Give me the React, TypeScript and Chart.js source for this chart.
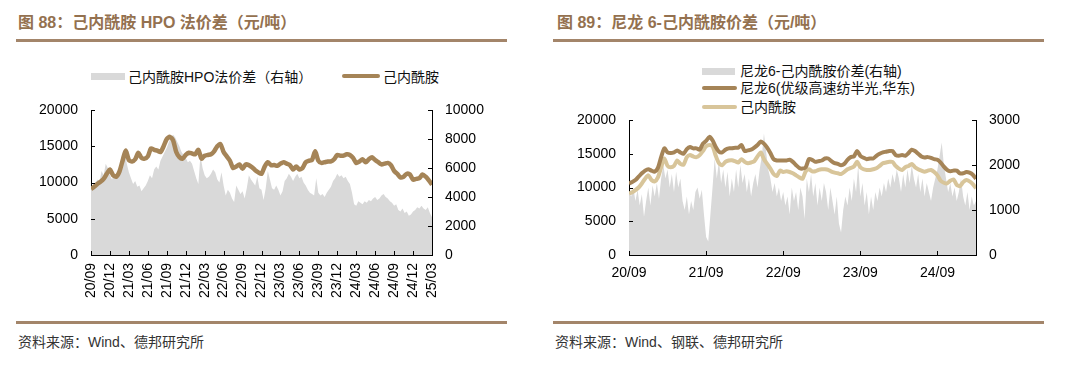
import { useEffect, useRef } from 'react';
import { Chart, registerables } from 'chart.js';

Chart.register(...registerables);

// ---------- data: left chart (图 88) ----------
// months since 2020-09, caprolactam price sampled twice a month
const L_CPL = [
  9100, 9400, 9800, 10100, 10500, 11200, 11800, 11000, 10800, 11500,
  13000, 14400, 13100, 12900, 13200, 14100, 13400, 13300, 13600, 14700,
  14500, 14400, 14200, 15000, 16000, 16300, 15800, 14200, 13500, 13300,
  13800, 14100, 14000, 13900, 14500, 13300, 13700, 13800, 13900, 14300,
  15000, 15300, 14200, 13600, 13000, 12000, 12200, 12500, 11900, 12500,
  12400, 12100, 11700, 11400, 11200, 12200, 12800, 12400, 12400, 12300,
  12600, 12800, 12600, 12400, 11800, 12200, 11800, 12000, 12800, 13000,
  13100, 14300, 13000, 12700, 12800, 12900, 12900, 13200, 13800, 13700,
  13700, 13900, 13800, 13400, 12700, 12900, 13200, 12800, 13200, 13500,
  13100, 12800, 12500, 12600, 12700, 12400, 11600, 11200, 10700, 10800,
  11200, 11100, 10400, 10500, 10600, 11100, 10800, 10300, 9700,
];
// HPO spread (right axis), sampled three times a month
const L_SPREAD = [
  4600, 4500, 4900, 5200, 5000, 5800, 5500, 6300, 6000,
  5500, 5200, 5600, 5400, 5700, 5900, 6400, 7300, 6300,
  5700, 5300, 4900, 5100, 4700, 4800, 4400, 4600, 4800,
  5100, 5500, 5300, 5900, 6100, 5900, 6500, 6800, 7100,
  7400, 7800, 8100, 8300, 8100, 7800, 7500, 7100, 6900,
  6700, 6400, 6500, 6300, 5800, 5300, 4900, 6900, 6000,
  5500, 5300, 5400, 5600, 5900, 5700, 5200, 5000, 5700,
  4800, 4100, 4500, 4300, 3900, 3650, 4800, 4500, 4200,
  4400, 3900, 4600, 5500, 5200, 5000, 4800, 5400, 4600,
  4500, 3800, 4600, 5800, 5200, 4600, 4500, 4800, 4500,
  4100, 4400, 5100, 5300, 5600, 5400, 5100, 5400, 5600,
  5300, 5400, 5000, 4800, 4500, 4300, 4200, 4100, 5300,
  4300, 4100, 4200, 4000, 4300, 4500, 4700, 5100, 5300,
  5600, 5400, 5500, 5300, 5400, 5100, 4900, 4300, 3500,
  3400, 3700, 3600, 3500, 3700, 3600, 3800, 3700, 3900,
  4000, 3800, 3900, 4100, 4200, 4000, 3900, 3700, 3600,
  3400, 3500, 3100, 3000, 3200, 2900, 3000, 2700, 2800,
  3000, 3100, 3300, 3200, 3400, 3200, 3100, 3300, 2900,
  2600,
];
const L_TICK_MONTHS = [0, 3, 6, 9, 12, 15, 18, 21, 24, 27, 30, 33, 36, 39, 42, 45, 48, 51, 54];
const L_TICK_LABELS = [
  '20/09', '20/12', '21/03', '21/06', '21/09', '21/12', '22/03', '22/06', '22/09', '22/12',
  '23/03', '23/06', '23/09', '23/12', '24/03', '24/06', '24/09', '24/12', '25/03',
];

// ---------- data: right chart (图 89) ----------
const R_NYLON = [
  10600, 10800, 11100, 11600, 12100, 12500, 12700, 12500, 12350, 12900,
  14500, 15800, 15200, 15100, 15200, 15500, 15200, 15000, 15700, 16000,
  15800, 15800, 15600, 16500, 16900, 17500, 17000, 16000, 15300, 15200,
  15600, 15800, 15800, 15900, 15900, 16300, 15400, 15500, 15600, 15900,
  16300, 16800, 16500, 15900, 15100, 14200, 14000, 14000, 14000, 14000,
  14100, 13800, 13300, 12900, 12800, 13000, 14200, 14100, 13800, 13900,
  14000, 14300, 14300, 13900, 13600, 13500, 13300, 13500, 14100, 14500,
  14600, 15400, 14700, 14400, 14200, 14300, 14300, 14700, 15000, 15200,
  15300, 15400, 15400, 14800, 14700, 14800, 14700, 15100, 15600, 15400,
  15000, 14600, 14450, 14500, 14400, 14200, 14100, 13700, 13100, 12600,
  12400, 12500, 12500, 12100, 12100, 12300, 12200, 11900, 11300,
];
const R_CPL = [
  9100, 9300, 9600, 10000, 10600, 11300, 11800, 11100, 10900, 11500,
  13000, 14300, 13200, 13000, 13200, 14000, 13500, 13400, 14500, 14800,
  14600, 14500, 14800, 15400, 16100, 16300, 16100, 14700, 13600, 13300,
  13800, 14000, 14050, 13900, 13700, 14200, 13800, 13600, 13700, 13900,
  14600, 15200, 14200, 13500, 12800, 12000, 11700, 12500, 12300, 12400,
  12300, 12100, 11800, 11500, 11300, 12400, 12700, 12400, 12400, 12600,
  12700, 12700, 12600, 12350, 12200, 12100, 12000, 12300, 12700, 12900,
  13100, 13800, 13000, 12700, 12600, 12600, 12700, 12850, 13200, 13600,
  13700, 13800, 13800, 13200, 12800, 12600, 13000, 13200, 13500, 13000,
  12700, 12500, 12350, 12500, 12600, 12300, 11800, 11000, 10700, 10600,
  11000, 11200, 10400, 10200, 10800, 11100, 10900, 10500, 9900,
];
const R_SPREAD = [
  1400, 1300, 1500, 1200, 1450, 1100, 1350, 850, 1200,
  1500, 1100, 1550, 1300, 1600, 1250, 1700, 2000, 1700,
  1900, 1500, 1800, 1400, 1850, 1500, 1700, 1200, 1000,
  1300, 900, 1200, 1000, 1400, 1500, 1250, 1450, 900,
  400, 300, 900, 1500, 2150, 1700, 2100, 1600, 1900,
  1500, 1850, 1300, 1700, 1400, 1900, 1500, 2000, 1600,
  1800, 1400, 1700, 1300, 1600, 1800, 1500, 1900, 2200,
  2700, 2300, 1900, 1700, 1400, 1600, 1300, 1500, 1200,
  1400, 1100, 1300, 900, 1500, 1200, 1400, 1000, 1500,
  1300, 800, 1700, 1400, 1800, 1300, 1600, 1100, 1500,
  1200, 1600, 1400, 1000, 1500, 1200, 900, 1300, 700,
  500, 1000, 1300, 1100, 1500, 1200, 1700, 1400, 2000,
  1300, 1600, 1100, 1400, 900, 1300, 1000, 1400, 1200,
  1500, 1300, 1600, 1400, 1700, 1500, 1800, 1600, 1900,
  1700, 1400, 1800, 1500, 1900, 1600, 2000, 1700, 1500,
  1800, 1400, 1700, 1300, 1600, 1400, 1200, 1500, 1700,
  1900, 2200, 2500, 2000, 1700, 1400, 1600, 1300, 1500,
  1200, 1400, 1700, 1300, 1100, 1400, 1000, 1300, 1100,
  1200,
];
const R_TICK_MONTHS = [0, 12, 24, 36, 48];
const R_TICK_LABELS = ['20/09', '21/09', '22/09', '23/09', '24/09'];

// ---------- styles ----------
const FONT = '"Liberation Sans", Arial, "Noto Sans CJK SC", sans-serif';
const TITLE_COLOR = '#94714f';
const RULE_COLOR = '#a3856a';
const DARK = '#a58457';
const LIGHT = '#d8c59a';
const GRAY = '#d9d9d9';

const toPoints = (vals: number[], perMonth: number) =>
  vals.map((v, i) => ({ x: i / perMonth, y: v }));

const inwardTicks = {
  id: 'inwardTicks',
  afterDraw(chart: any) {
    const ctx = chart.ctx;
    ctx.save();
    ctx.strokeStyle = '#000';
    ctx.lineWidth = 1;
    Object.values(chart.scales).forEach((s: any) => {
      s.ticks.forEach((t: any) => {
        const p = Math.round(s.getPixelForValue(t.value)) + 0.5;
        ctx.beginPath();
        if (s.axis === 'x') {
          ctx.moveTo(p, s.top);
          ctx.lineTo(p, s.top - 4);
        } else if (s.position === 'left') {
          ctx.moveTo(s.right, p);
          ctx.lineTo(s.right + 4, p);
        } else {
          ctx.moveTo(s.left, p);
          ctx.lineTo(s.left - 4, p);
        }
        ctx.stroke();
      });
    });
    ctx.restore();
  },
};

const tickFont = { family: FONT, size: 14 };
const border = { display: true, color: '#000', width: 1 };

function yAxis(position: 'left' | 'right', max: number, step: number, width: number) {
  return {
    type: 'linear' as const,
    position,
    min: 0,
    max,
    grid: { display: false, drawTicks: false },
    border,
    ticks: {
      stepSize: step,
      padding: 13,
      color: '#000',
      font: tickFont,
      callback: (v: any) => String(v),
    },
    afterFit: (s: any) => {
      s.width = width;
      s.paddingTop = 0;
      s.paddingBottom = 0;
    },
  };
}

function xAxis(months: number[], labels: string[], rotated: boolean, padding: number) {
  return {
    type: 'linear' as const,
    min: 0,
    max: 54,
    grid: { display: false, drawTicks: false },
    border,
    afterBuildTicks: (s: any) => {
      s.ticks = months.map((v) => ({ value: v }));
    },
    ticks: {
      autoSkip: false,
      maxRotation: rotated ? 90 : 0,
      minRotation: rotated ? 90 : 0,
      padding,
      color: '#000',
      font: tickFont,
      callback: (v: any) => {
        const i = months.indexOf(v);
        return i >= 0 ? labels[i] : '';
      },
    },
    afterFit: (s: any) => {
      s.height = 55;
      s.paddingLeft = 0;
      s.paddingRight = 0;
    },
  };
}

const abs = (style: any) => ({ position: 'absolute' as const, ...style });

export default function App() {
  const leftRef = useRef<HTMLCanvasElement>(null);
  const rightRef = useRef<HTMLCanvasElement>(null);

  useEffect(() => {
    const left = new Chart(leftRef.current!, {
      type: 'line',
      data: {
        datasets: [
          {
            label: '己内酰胺',
            data: toPoints(L_CPL, 2),
            yAxisID: 'y',
            borderColor: DARK,
            borderWidth: 4.5,
            pointRadius: 0,
            fill: false,
            tension: 0.25,
            order: 0,
          },
          {
            label: '己内酰胺HPO法价差（右轴）',
            data: toPoints(L_SPREAD, 3),
            yAxisID: 'y1',
            borderWidth: 0,
            borderColor: GRAY,
            backgroundColor: GRAY,
            pointRadius: 0,
            fill: 'origin',
            tension: 0,
            order: 1,
          },
        ],
      },
      options: {
        responsive: false,
        animation: false,
        layout: { padding: { top: 10, left: 0, right: 0, bottom: 0 } },
        plugins: { legend: { display: false }, tooltip: { enabled: false } },
        scales: {
          x: xAxis(L_TICK_MONTHS, L_TICK_LABELS, true, 8),
          y: yAxis('left', 20000, 5000, 55),
          y1: yAxis('right', 10000, 2000, 64),
        },
      } as any,
      plugins: [inwardTicks],
    });

    const right = new Chart(rightRef.current!, {
      type: 'line',
      data: {
        datasets: [
          {
            label: '尼龙6(优级高速纺半光,华东)',
            data: toPoints(R_NYLON, 2),
            yAxisID: 'y',
            borderColor: DARK,
            borderWidth: 4,
            pointRadius: 0,
            fill: false,
            tension: 0.25,
            order: 0,
          },
          {
            label: '己内酰胺',
            data: toPoints(R_CPL, 2),
            yAxisID: 'y',
            borderColor: LIGHT,
            borderWidth: 4,
            pointRadius: 0,
            fill: false,
            tension: 0.25,
            order: 1,
          },
          {
            label: '尼龙6-己内酰胺价差(右轴)',
            data: toPoints(R_SPREAD, 3),
            yAxisID: 'y1',
            borderWidth: 0,
            borderColor: GRAY,
            backgroundColor: GRAY,
            pointRadius: 0,
            fill: 'origin',
            tension: 0,
            order: 2,
          },
        ],
      },
      options: {
        responsive: false,
        animation: false,
        layout: { padding: { top: 10, left: 0, right: 0, bottom: 0 } },
        plugins: { legend: { display: false }, tooltip: { enabled: false } },
        scales: {
          x: xAxis(R_TICK_MONTHS, R_TICK_LABELS, false, 10),
          y: yAxis('left', 20000, 5000, 59),
          y1: yAxis('right', 3000, 1000, 54),
        },
      } as any,
      plugins: [inwardTicks],
    });

    return () => {
      left.destroy();
      right.destroy();
    };
  }, []);

  const title = {
    fontSize: 16,
    lineHeight: '16px',
    fontWeight: 700,
    color: TITLE_COLOR,
    whiteSpace: 'nowrap' as const,
  };
  const legendText = {
    fontSize: 14,
    lineHeight: '14px',
    color: '#111',
    whiteSpace: 'nowrap' as const,
  };
  const source = {
    fontSize: 14,
    lineHeight: '14px',
    color: '#333',
    whiteSpace: 'nowrap' as const,
  };

  return (
    <div
      style={{
        position: 'fixed',
        left: 0,
        top: 0,
        width: 1080,
        height: 374,
        background: '#fff',
        overflow: 'hidden',
        fontFamily: FONT,
      }}
    >
      {/* left panel */}
      <div style={abs({ left: 18, top: 15, ...title })}>图 88：己内酰胺 HPO 法价差（元/吨）</div>
      <div style={abs({ left: 16, top: 39, width: 491, height: 3, background: RULE_COLOR })} />
      <div style={abs({ left: 91, top: 73, width: 34, height: 7, background: GRAY })} />
      <div style={abs({ left: 128, top: 70, ...legendText })}>己内酰胺HPO法价差（右轴）</div>
      <div style={abs({ left: 342, top: 74, width: 38, height: 4, borderRadius: 2, background: DARK })} />
      <div style={abs({ left: 383, top: 70, ...legendText })}>己内酰胺</div>
      <canvas
        ref={leftRef}
        width={460}
        height={210}
        style={abs({ left: 36, top: 100, width: 460, height: 210, display: 'block' })}
      />
      <div style={abs({ left: 16, top: 321, width: 491, height: 3, background: RULE_COLOR })} />
      <div style={abs({ left: 18, top: 335, ...source })}>资料来源：Wind、德邦研究所</div>

      {/* right panel */}
      <div style={abs({ left: 557, top: 15, ...title })}>图 89：尼龙 6-己内酰胺价差（元/吨）</div>
      <div style={abs({ left: 553, top: 39, width: 491, height: 3, background: RULE_COLOR })} />
      <div style={abs({ left: 702, top: 68, width: 33, height: 7, background: GRAY })} />
      <div style={abs({ left: 740, top: 64, ...legendText })}>尼龙6-己内酰胺价差(右轴)</div>
      <div style={abs({ left: 702, top: 86, width: 35, height: 4, borderRadius: 2, background: DARK })} />
      <div style={abs({ left: 740, top: 81, ...legendText })}>尼龙6(优级高速纺半光,华东)</div>
      <div style={abs({ left: 702, top: 105, width: 35, height: 4, borderRadius: 2, background: LIGHT })} />
      <div style={abs({ left: 740, top: 100, ...legendText })}>己内酰胺</div>
      <canvas
        ref={rightRef}
        width={460}
        height={200}
        style={abs({ left: 570, top: 110, width: 460, height: 200, display: 'block' })}
      />
      <div style={abs({ left: 553, top: 321, width: 491, height: 3, background: RULE_COLOR })} />
      <div style={abs({ left: 555, top: 335, ...source })}>资料来源：Wind、钢联、德邦研究所</div>
    </div>
  );
}
